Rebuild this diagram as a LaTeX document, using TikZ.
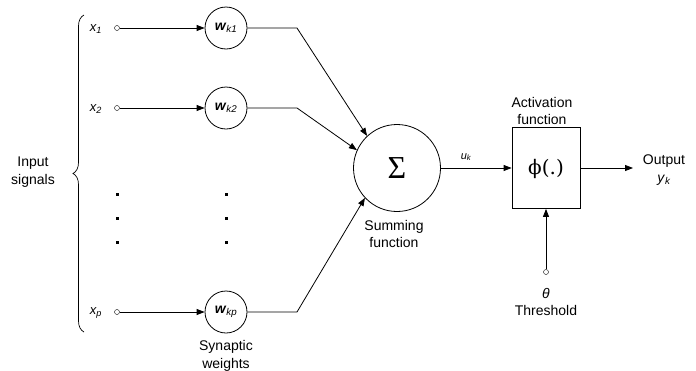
\documentclass[tikz,border=0pt]{standalone}
\usepackage{fontspec}
\setmainfont{Liberation Sans}
\newfontfamily\serifgr{DejaVu Serif}
\newfontfamily\timesf{Liberation Serif}
\usetikzlibrary{arrows.meta,decorations.pathreplacing}
\begin{document}
\begin{tikzpicture}[x=1pt,y=-1pt,
  every node/.style={font=\fontsize{14}{17.5}\selectfont},
  lbl/.style={align=center,inner sep=0pt},
  term/.style={circle,draw,inner sep=0pt,minimum size=5pt,fill=white},
  wnode/.style={circle,draw,minimum size=42pt,inner sep=0pt,line width=0.8pt},
  conn/.style={line width=0.8pt},
  arr/.style={conn,-{Triangle[length=8pt,width=6pt]}},
  dotsq/.style={fill=black,minimum size=3pt,inner sep=0pt},
  varlbl/.style={inner sep=0pt,font=\fontsize{13}{15}\selectfont\itshape}
]
\useasboundingbox (0,0) rectangle (696,370);

% brace and input label
\coordinate (brb) at (84,332);
\coordinate (brt) at (84,15);
\draw[line width=0.7pt,decorate,decoration={brace,amplitude=11pt}] (brb) -- (brt);
\node[lbl] (insig) at (33,172) {Input\\signals};

% input terminals
\node[term] (t1) at (117,28) {};
\node[term] (t2) at (117,108) {};
\node[term] (tp) at (117,312) {};
\node[varlbl] (x1) at (96,29) {x\textsubscript{1}};
\node[varlbl] (x2) at (96,109) {x\textsubscript{2}};
\node[varlbl] (xp) at (96,313) {x\textsubscript{p}};

% weights
\node[wnode] (w1) at (226,28) {\textit{\textbf{w}}\textsubscript{\itshape k1}};
\node[wnode] (w2) at (226,108) {\textit{\textbf{w}}\textsubscript{\itshape k2}};
\node[wnode] (wp) at (226,312) {\textit{\textbf{w}}\textsubscript{\itshape kp}};
\node[lbl] (syn) at (226,356) {Synaptic\\weights};

\draw[arr] (t1) -- (w1);
\draw[arr] (t2) -- (w2);
\draw[arr] (tp) -- (wp);

% dots
\foreach \yy [count=\i] in {194,218,242}{
  \node[dotsq] (da\i) at (117,\yy) {};
  \node[dotsq] (db\i) at (226,\yy) {};
}

% summing junction
\node[circle,draw,line width=0.8pt,minimum size=87pt,inner sep=0pt] (sum) at (397,168) {};
\node[inner sep=0pt,font=\timesf\fontsize{32}{32}\selectfont] (sig) at (397,168) {Σ};
\node[lbl] (sumlbl) at (394,234) {Summing\\function};

\coordinate (b1) at (297,28);
\coordinate (b2) at (297,108);
\coordinate (bp) at (297,312);
\draw[arr] (w1) -- (b1) -- (sum.133);
\draw[arr] (w2) -- (b2) -- (sum.156);
\draw[arr] (wp) -- (bp) -- (sum.223);

% activation
\node[draw,line width=0.8pt,minimum width=68pt,minimum height=81pt,inner sep=0pt] (act) at (546,168) {};
\node[inner sep=0pt,font=\serifgr\fontsize{20}{20}\selectfont] (phi) at (546,169) {ϕ(.)};
\node[lbl] (actlbl) at (542,111) {Activation\\function};
\draw[arr] (sum) -- (act);
\node[varlbl,font=\fontsize{11}{13}\selectfont\itshape] (uk) at (466,157) {u\textsubscript{k}};

% output
\coordinate (out) at (633,168);
\draw[arr] (act) -- (out);
\node[lbl] (outlbl) at (664,170) {Output\\\textit{y}\textsubscript{\itshape k}};

% threshold
\node[term] (th) at (546,272) {};
\draw[arr] (th) -- (act);
\node[lbl] (thlbl) at (546,302) {\textit{θ}\\Threshold};
\end{tikzpicture}
\end{document}
